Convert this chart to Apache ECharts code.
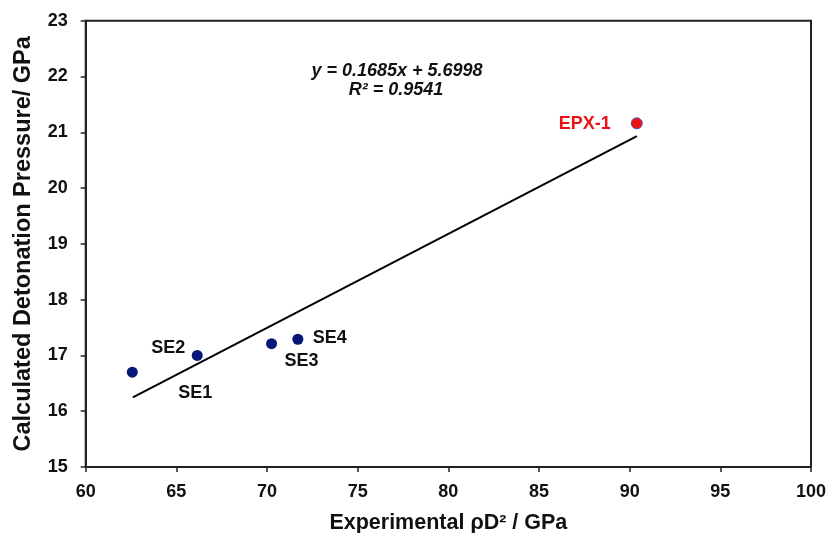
<!DOCTYPE html>
<html>
<head>
<meta charset="utf-8">
<script src="https://cdn.jsdelivr.net/npm/echarts@6/dist/echarts.min.js"></script>
<style>html,body{margin:0;padding:0;background:#fff}#c{width:829px;height:533px}</style>
</head>
<body>
<div id="c"></div>
<script>
// ---- data ----
const pointNames = ['SE1', 'SE2', 'SE3', 'SE4', 'EPX-1'];
const expPD2 = [62.57, 66.15, 70.25, 71.7, 90.39];
const calcPressure = [16.70, 17.0, 17.21, 17.29, 21.16];
const trendX = [62.6, 90.4];
const trendY = [16.25, 20.93];
const xTicks = [60, 65, 70, 75, 80, 85, 90, 95, 100];
const yTicks = [15, 16, 17, 18, 19, 20, 21, 22, 23];
const equationText = 'y = 0.1685x + 5.6998';
const r2Text = 'R² = 0.9541';

// ---- styling ----
const labelOffsets = [[63, 21], [-29, -7], [30, 17], [32, -1], [-52, 1]];
const navy = '#06177a';
const red = '#ee1111';
const font = 'Liberation Sans, Arial, sans-serif';

const chart = echarts.init(document.getElementById('c'), null, {renderer: 'canvas'});

const scatterData = expPD2.map((x, i) => {
  const isRed = pointNames[i] === 'EPX-1';
  return {
    value: [x, calcPressure[i]],
    name: pointNames[i],
    itemStyle: isRed ? {color: red, borderColor: '#4a4ab0', borderWidth: 1, opacity: 1} : {color: navy, opacity: 1},
    label: {
      show: true,
      position: 'inside',
      offset: labelOffsets[i],
      formatter: pointNames[i],
      color: isRed ? red : '#111',
      opacity: 1,
      fontSize: 18,
      fontWeight: 'bold',
      fontFamily: font
    }
  };
});

const option = {
  animation: false,
  grid: {left: 85.7, right: 18, top: 20.7, bottom: 66, containLabel: false, outerBoundsMode: 'none',
    show: true, borderColor: '#222', borderWidth: 2, backgroundColor: 'transparent'},
  xAxis: {
    type: 'value', min: xTicks[0], max: xTicks[xTicks.length - 1], interval: 5,
    name: 'Experimental ρD² / GPa', nameLocation: 'middle', nameGap: 45,
    nameTextStyle: {fontSize: 21.5, fontWeight: 'bold', color: '#111', fontFamily: font},
    axisLine: {show: true, lineStyle: {color: '#222', width: 2}},
    axisTick: {show: true, inside: false, length: 5, lineStyle: {color: '#222', width: 1.5}},
    axisLabel: {fontSize: 18, fontWeight: 'bold', color: '#111', fontFamily: font, margin: 16},
    splitLine: {show: false}
  },
  yAxis: {
    type: 'value', min: yTicks[0], max: yTicks[yTicks.length - 1], interval: 1,
    name: 'Calculated Detonation Pressure/ GPa', nameLocation: 'middle', nameGap: 50,
    nameTextStyle: {fontSize: 23.5, fontWeight: 'bold', color: '#111', fontFamily: font},
    axisLine: {show: true, lineStyle: {color: '#222', width: 2}},
    axisTick: {show: true, inside: false, length: 5, lineStyle: {color: '#222', width: 1.5}},
    axisLabel: {fontSize: 18, fontWeight: 'bold', color: '#111', fontFamily: font, margin: 18},
    splitLine: {show: false}
  },
  graphic: [
    {type: 'text', x: 397, y: 71, style: {text: equationText, fill: '#111', font: 'italic bold 18px ' + font, textAlign: 'center', textVerticalAlign: 'middle'}},
    {type: 'text', x: 396, y: 90, style: {text: r2Text, fill: '#111', font: 'italic bold 18px ' + font, textAlign: 'center', textVerticalAlign: 'middle'}}
  ],
  series: [
    {
      type: 'line',
      data: trendX.map((x, i) => [x, trendY[i]]),
      symbol: 'none',
      lineStyle: {color: '#000', width: 2},
      z: 2
    },
    {
      type: 'scatter',
      data: scatterData,
      symbolSize: 11,
      z: 3
    }
  ]
};
chart.setOption(option);
</script>
</body>
</html>
